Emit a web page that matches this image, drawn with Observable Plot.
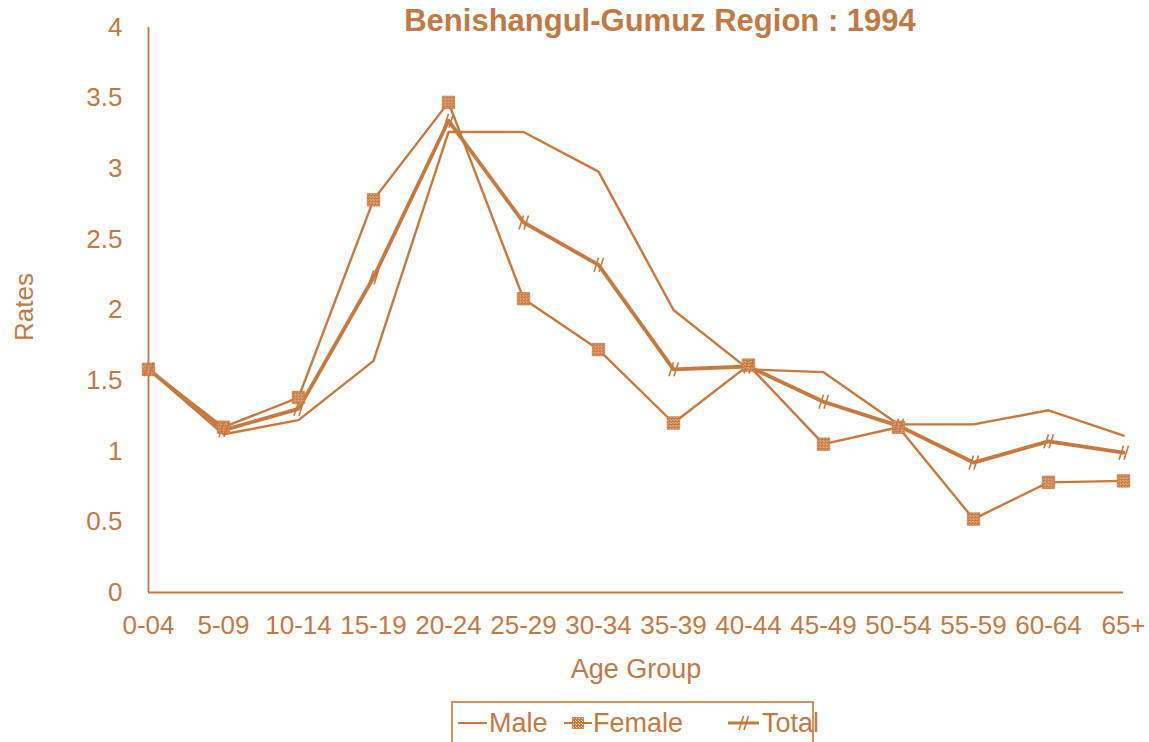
<!DOCTYPE html>
<html>
<head>
<meta charset="utf-8">
<script src="https://cdn.jsdelivr.net/npm/d3@7"></script>
<script src="https://cdn.jsdelivr.net/npm/@observablehq/plot@0.6"></script>
<style>
  html, body { margin: 0; padding: 0; background: #fff; overflow: hidden; }
  #chart svg { display: block; }
  #legend { display: block; }
</style>
</head>
<body>
<svg width="0" height="0" style="position:absolute">
  <defs>
    <pattern id="hatch" width="3" height="3" patternUnits="userSpaceOnUse">
      <rect width="3" height="3" fill="#c8793f"/>
      <rect x="0" y="0" width="1" height="1" fill="#f3d7bf"/>
      <rect x="2" y="2" width="1" height="1" fill="#f3d7bf"/>
    </pattern>
  </defs>
</svg>
<div id="chart"></div>
<svg id="legend" width="1149" height="42"></svg>
<script>
const ages = ["0-04","5-09","10-14","15-19","20-24","25-29","30-34","35-39","40-44","45-49","50-54","55-59","60-64","65+"];
const male   = [1.58, 1.12, 1.22, 1.64, 3.26, 3.26, 2.98, 2.00, 1.58, 1.56, 1.19, 1.19, 1.29, 1.11];
const female = [1.58, 1.17, 1.38, 2.78, 3.47, 2.08, 1.72, 1.20, 1.61, 1.05, 1.17, 0.52, 0.78, 0.79];
const total  = [1.58, 1.15, 1.30, 2.23, 3.34, 2.62, 2.32, 1.58, 1.60, 1.35, 1.18, 0.92, 1.07, 0.99];
const yTicks = [0, 0.5, 1, 1.5, 2, 2.5, 3, 3.5, 4];
const titleText = "Benishangul-Gumuz Region : 1994";

const C = "#c8793f";
const T = "#c27a45";
const FONT = "'Liberation Sans', Arial, sans-serif";

const rows = (vals) => ages.map((a, i) => ({age: a, value: vals[i]}));
const maleRows = rows(male), femaleRows = rows(female), totalRows = rows(total);

const slashSymbol = {
  draw(ctx, size) {
    ctx.moveTo(-4.5, 7); ctx.lineTo(0, -7);
    ctx.moveTo(0.5, 7); ctx.lineTo(5, -7);
  }
};

const chart = Plot.plot({
  width: 1149,
  height: 700,
  marginLeft: 148,
  marginRight: 26,
  marginTop: 27,
  marginBottom: 108,
  style: {fontFamily: FONT, color: T, background: "#fff"},
  x: {type: "point", domain: ages, padding: 0, label: null},
  y: {domain: [0, 4], ticks: yTicks, label: null},
  marks: [
    Plot.axisX({tickSize: 0, tickPadding: 23, fontSize: 26, label: null, fill: T}),
    Plot.axisY({ticks: yTicks, tickSize: 0, tickPadding: 26, fontSize: 26, label: null, fill: T, tickFormat: d => String(d)}),
    Plot.ruleY([0], {stroke: C, strokeWidth: 1.8}),
    Plot.ruleX([ages[0]], {y1: 0, y2: 4, stroke: C, strokeWidth: 1.8}),
    Plot.line(maleRows, {x: "age", y: "value", stroke: C, strokeWidth: 2.4}),
    Plot.line(femaleRows, {x: "age", y: "value", stroke: C, strokeWidth: 2.4}),
    Plot.line(totalRows, {x: "age", y: "value", stroke: C, strokeWidth: 3.8}),
    Plot.dot(femaleRows, {x: "age", y: "value", symbol: "square", r: 7, fill: "url(#hatch)", stroke: C, strokeWidth: 0.8}),
    Plot.dot(totalRows, {x: "age", y: "value", symbol: slashSymbol, r: 5, fill: "none", stroke: C, strokeWidth: 1.6}),
    Plot.text([titleText], {frameAnchor: "top", dy: 3, dx: 24, lineAnchor: "bottom", fontSize: 31, fontWeight: "bold", fill: T}),
    Plot.text(["Age Group"], {frameAnchor: "bottom", dy: 85, dx: 0, fontSize: 27, fill: T}),
    Plot.text(["Rates"], {frameAnchor: "left", textAnchor: "middle", dx: -124, dy: -3, rotate: -90, fontSize: 26, fill: T})
  ]
});
document.getElementById("chart").appendChild(chart);

// Legend below the plot
const lg = d3.select("#legend");
lg.append("rect").attr("x", 452).attr("y", 2).attr("width", 361).attr("height", 60)
  .attr("fill", "none").attr("stroke", C).attr("stroke-width", 1.6);
const items = [
  {name: "Male", x0: 458, x1: 487, tx: 489, marker: null, w: 2},
  {name: "Female", x0: 564, x1: 592, tx: 593, marker: "square", w: 2},
  {name: "Total", x0: 728, x1: 759, tx: 762, marker: "slash", w: 3}
];
const ly = 23;
for (const it of items) {
  lg.append("line").attr("x1", it.x0).attr("x2", it.x1).attr("y1", ly).attr("y2", ly)
    .attr("stroke", C).attr("stroke-width", it.w);
  const cx = (it.x0 + it.x1) / 2;
  if (it.marker === "square") {
    lg.append("rect").attr("x", cx - 5.5).attr("y", ly - 5.5).attr("width", 11).attr("height", 11)
      .attr("fill", "url(#hatch)").attr("stroke", C).attr("stroke-width", 0.8);
  } else if (it.marker === "slash") {
    lg.append("path").attr("d", `M${cx-4.5},${ly+7}L${cx},${ly-7}M${cx+0.5},${ly+7}L${cx+5},${ly-7}`)
      .attr("stroke", C).attr("stroke-width", 1.6).attr("fill", "none");
  }
  lg.append("text").attr("x", it.tx).attr("y", 32).attr("font-size", 27)
    .attr("font-family", FONT).attr("fill", T).text(it.name);
}
</script>
</body>
</html>
